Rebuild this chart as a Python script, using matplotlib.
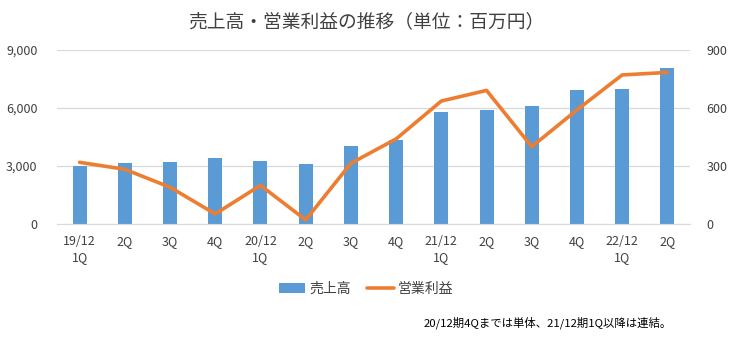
import matplotlib
matplotlib.use("Agg")
import matplotlib.pyplot as plt
import numpy as np

plt.rcParams['font.family'] = ['Noto Sans CJK JP', 'DejaVu Sans']

# data
quarters = ["19/12\n1Q", "2Q", "3Q", "4Q", "20/12\n1Q", "2Q", "3Q", "4Q",
            "21/12\n1Q", "2Q", "3Q", "4Q", "22/12\n1Q", "2Q"]
sales = [3020, 3155, 3207, 3431, 3259, 3103, 4034, 4345,
         5810, 5897, 6103, 6931, 6983, 8069]
op_profit = [319, 283, 190, 52, 200, 21, 314, 440,
             636, 691, 400, 590, 771, 784]

BAR_COLOR = "#5B9BD5"
LINE_COLOR = "#ED7D31"
TEXT_COLOR = "#404040"
GRID_COLOR = "#D9D9D9"

fig = plt.figure(figsize=(7.33, 3.39), dpi=100)
ax = fig.add_axes([57 / 733, 1 - 224 / 339, (690 - 57) / 733, 174 / 339])
ax2 = ax.twinx()

x = np.arange(len(quarters))
ax.bar(x, sales, width=0.31, color=BAR_COLOR, zorder=2, label="売上高")
ax2.plot(x, op_profit, color=LINE_COLOR, lw=2.6, zorder=3, label="営業利益",
         solid_capstyle="round", solid_joinstyle="round")

ax.set_xlim(-0.5, len(quarters) - 0.5)
ax.set_ylim(0, 9000)
ax.set_yticks([0, 3000, 6000, 9000])
ax.set_yticklabels([f"{v:,}" for v in [0, 3000, 6000, 9000]])
ax2.set_ylim(0, 900)
ax2.set_yticks([0, 300, 600, 900])

ax.set_xticks(x)
ax.set_xticklabels(quarters, linespacing=1.3)

ax.grid(axis="y", color=GRID_COLOR, lw=0.9, zorder=0)
ax.set_axisbelow(True)
for a in (ax, ax2):
    for s in a.spines.values():
        s.set_visible(False)
    a.tick_params(length=0, labelsize=9, colors=TEXT_COLOR)
ax.spines["bottom"].set_visible(True)
ax.spines["bottom"].set_color(GRID_COLOR)
ax.tick_params(axis="y", pad=14)
ax2.tick_params(axis="y", pad=12)
ax.tick_params(axis="x", pad=8)

fig.text(0.5, 1 - 22 / 339, "売上高・営業利益の推移（単位：百万円）",
         ha="center", va="center", fontsize=13.5, color=TEXT_COLOR)

h1, l1 = ax.get_legend_handles_labels()
h2, l2 = ax2.get_legend_handles_labels()
fig.legend(h1 + h2, l1 + l2, loc="center", bbox_to_anchor=(366 / 733, 1 - 289 / 339),
           ncol=2, frameon=False, fontsize=10, labelcolor=TEXT_COLOR,
           handlelength=1.9, handletextpad=0.3, columnspacing=1.2)

fig.text(672 / 733, 1 - 323 / 339, "20/12期4Qまでは単体、21/12期1Q以降は連結。",
         ha="right", va="center", fontsize=8.2, color="#000000")

fig.savefig("out.png", dpi=100)
